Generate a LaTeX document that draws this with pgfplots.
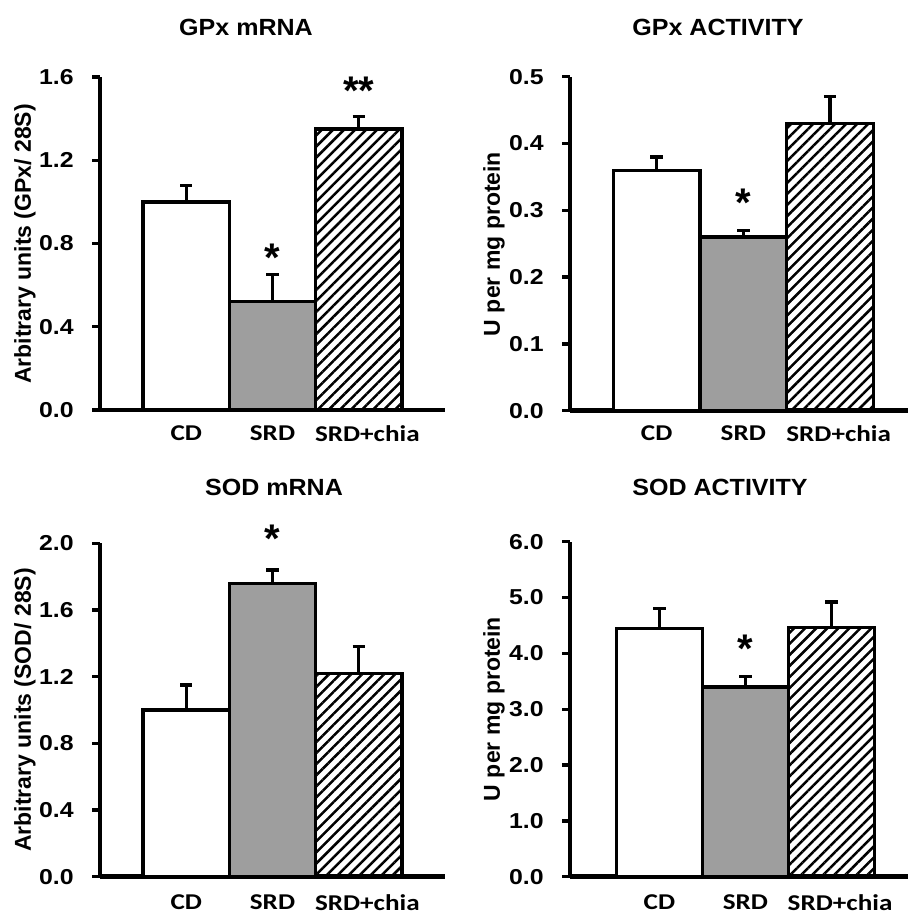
\documentclass[border=0pt]{standalone}
\usepackage{fontspec}
\usepackage{pgfplots}
\pgfplotsset{compat=1.18}
\usetikzlibrary{patterns.meta}
\setmainfont{Liberation Sans}
\newfontfamily\titlefont[FakeStretch=1.07]{Liberation Sans}
\newfontfamily\catfont[FakeStretch=1.2]{Carlito}
\newfontfamily\tickfont[FakeStretch=1.15]{Liberation Sans}
\definecolor{srdgray}{RGB}{158,158,158}

\tikzset{astnode/.style={anchor=north,inner sep=0pt,font=\fontsize{20}{20}\selectfont\bfseries}}

\pgfplotsset{
  panel/.style={
    scale only axis,
    anchor=south west,
    axis x line*=bottom,
    axis y line*=left,
    axis line style={line width=2.4pt,-},
    ymin=0,
    xtick={1,2,3.1},
    xticklabels={CD,SRD,SRD+chia},
    x tick style={draw=none},
    xticklabel style={font=\catfont\fontsize{11.3}{13}\selectfont\bfseries,anchor=north,inner sep=0pt,yshift=-3.5pt},
    y tick style={line width=1.7pt,black},
    tick align=outside,
    major tick length=4pt,
    yticklabel={\fontsize{10.8}{13}\selectfont\tickfont\bfseries\pgfmathprintnumber[fixed,fixed zerofill,precision=1,assume math mode=true]{\tick}},
    yticklabel style={anchor=east,inner sep=0pt,xshift=-9pt},
    clip=false,
  },
  barbase/.style={ybar,bar width=1,bar shift=0pt,draw=black,line width=1.65pt,
    error bars/.cd,y dir=plus,y explicit,
    error bar style={line width=1.65pt,black},
    error mark options={rotate=90,mark size=3.1pt,line width=1.65pt,black}},
  cd/.style={fill=white,barbase},
  srd/.style={fill=srdgray,barbase},
  chia/.style={pattern={Lines[angle=45,distance=3.9pt,line width=1.25pt]},pattern color=black,barbase},
}

\begin{document}
\begin{tikzpicture}
\useasboundingbox (0,0) rectangle (454.5pt,-457.5pt);

% Panel 1: GPx mRNA
\begin{axis}[panel, at={(50pt,-205pt)}, width=172.5pt, height=166.5pt,
  xmin=0, xmax=4, ymax=1.6, ytick={0,0.4,0.8,1.2,1.6}]
\addplot[cd] coordinates {(1,1.00) +- (0,0.08)};
\addplot[srd] coordinates {(2,0.52) +- (0,0.13)};
\addplot[chia] coordinates {(3,1.35) +- (0,0.06)};
\node[astnode] at (axis cs:2,0.798) {*};
\node[astnode] at (axis cs:3,1.60) {**};
\end{axis}

% Panel 2: GPx activity
\begin{axis}[panel, at={(285pt,-205.35pt)}, width=169pt, height=167pt,
  xmin=0, xmax=3.9, ymax=0.5, ytick={0,0.1,0.2,0.3,0.4,0.5}]
\addplot[cd] coordinates {(1,0.36) +- (0,0.02)};
\addplot[srd] coordinates {(2,0.26) +- (0,0.01)};
\addplot[chia] coordinates {(3,0.43) +- (0,0.04)};
\node[astnode] at (axis cs:2,0.333) {*};
\end{axis}

% Panel 3: SOD mRNA
\begin{axis}[panel, at={(50pt,-438.35pt)}, width=172.5pt, height=166.7pt,
  xmin=0, xmax=4, ymax=2.0, ytick={0,0.4,0.8,1.2,1.6,2.0},
  xticklabel style={yshift=-1.5pt}]
\addplot[cd] coordinates {(1,1.00) +- (0,0.15)};
\addplot[srd] coordinates {(2,1.76) +- (0,0.08)};
\addplot[chia] coordinates {(3,1.22) +- (0,0.16)};
\node[astnode] at (axis cs:2,2.11) {*};
\end{axis}

% Panel 4: SOD activity
\begin{axis}[panel, at={(285pt,-438.35pt)}, width=169pt, height=167.5pt,
  xmin=-0.04, xmax=3.89, ymax=6.0, ytick={0,1,2,3,4,5,6},
  xticklabel style={yshift=-1.5pt}]
\addplot[cd] coordinates {(1,4.44) +- (0,0.36)};
\addplot[srd] coordinates {(2,3.40) +- (0,0.18)};
\addplot[chia] coordinates {(3,4.46) +- (0,0.46)};
\node[astnode] at (axis cs:2,4.33) {*};
\end{axis}

\begin{scope}[x=0.5pt,y=-0.5pt]
\tikzset{ttl/.style={font=\titlefont\fontsize{11.7}{14}\selectfont\bfseries,inner sep=0pt},
  ylab/.style={rotate=90,inner sep=0pt,font=\fontsize{11.5}{13}\selectfont\bfseries}}
\node[ttl] at (246,27) {GPx mRNA};
\node[ttl] at (718,27) {GPx ACTIVITY};
\node[ttl] at (274,487) {SOD mRNA};
\node[ttl] at (720,487) {SOD ACTIVITY};
\node[ylab] at (25,244) {Arbitrary units (GPx/ 28S)};
\node[ylab] at (494,244) {U per mg protein};
\node[ylab] at (25,710) {Arbitrary units (SOD/ 28S)};
\node[ylab] at (494,709) {U per mg protein};
\end{scope}
\end{tikzpicture}
\end{document}
